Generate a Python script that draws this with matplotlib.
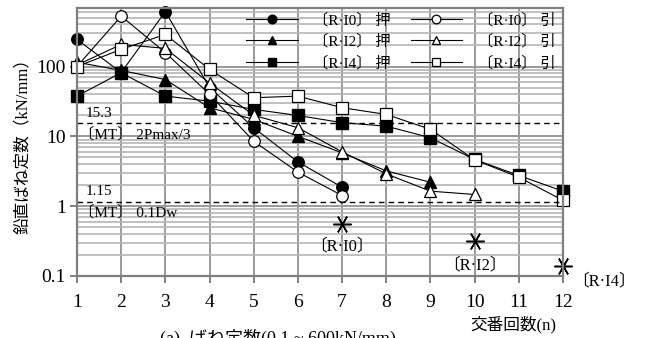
import numpy as np
import matplotlib
matplotlib.use("Agg")
import matplotlib.pyplot as plt
from matplotlib.ticker import LogLocator, FixedLocator, NullFormatter

plt.rcParams['font.family'] = ['Liberation Serif', 'Noto Sans CJK JP', 'DejaVu Sans']

# cycles (x) and vertical spring constants (kN/mm)
cycles = [1, 2, 3, 4, 5, 6, 7, 8, 9, 10, 11, 12]
i0_push = [244, 82, 610, 50, 13.3, 4.3, 1.87]
i0_pull = [100, 527, 158, 40, 8.5, 3.07, 1.42]
i2_push = [115, 88, 65, 25.7, 17.5, 10, 5.8, 3.2, 2.2]
i2_pull = [105, 207, 182, 58, 20, 13.3, 6.0, 2.9, 1.64, 1.47]
i4_push = [37.7, 81.5, 37.7, 31.9, 24.3, 19.9, 15.7, 14, 9.55, 4.67, 2.75, 1.64]
i4_pull = [100, 176, 288, 91, 35.7, 37.7, 25.7, 20.6, 12.6, 4.6, 2.6, 1.21]

limit_vals = [15.3, 1.15]
limit_notes = ['〔MT〕 2Pmax/3', '〔MT〕 0.1Dw']

# failure marks
fail_x = [7, 10, 12]
fail_y = [0.547, 0.315, 0.141]
fail_names = ['〔R·I0〕', '〔R·I2〕', '〔R·I4〕']

fig = plt.figure(figsize=(6.46, 3.38), dpi=100)
ax = fig.add_axes([77/646, 1 - 276/338, (563-77)/646, (276-7.5)/338])
ax.set_yscale('log')
ax.set_xlim(1, 12)
ax.set_ylim(0.1, 700)

# grid
ax.yaxis.set_major_locator(FixedLocator([0.1, 1, 10, 100]))
ax.yaxis.set_minor_locator(LogLocator(base=10, subs=np.arange(2, 10)))
ax.yaxis.set_minor_formatter(NullFormatter())
ax.set_yticklabels(['0.1', '1', '10', '100'])
ax.set_xticks(cycles)
ax.grid(which='major', color='#9a9a9a', lw=1.4)
ax.grid(which='minor', axis='y', color='#b5b5b5', lw=1.2)
ax.set_axisbelow(True)
for s in ax.spines.values():
    s.set_color('#808080')
    s.set_linewidth(1.6)
ax.tick_params(which='major', length=5, width=1.4, color='#808080', labelsize=14, pad=8)
ax.tick_params(axis='y', pad=3)
ax.tick_params(which='minor', length=0)

ms = 8.3
kw = dict(color='black', lw=0.8, ms=ms, clip_on=False)
h1, = ax.plot(cycles[:len(i0_push)], i0_push, marker='o', mfc='black', mec='black', label='〔R·I0〕 押', **kw)
h2, = ax.plot(cycles[:len(i2_push)], i2_push, marker='^', mfc='black', mec='black', label='〔R·I2〕 押', **kw)
h3, = ax.plot(cycles[:len(i4_push)], i4_push, marker='s', mfc='black', mec='black', label='〔R·I4〕 押', **kw)
h4, = ax.plot(cycles[:len(i0_pull)], i0_pull, marker='o', mfc='white', mec='black', mew=0.9, label='〔R·I0〕 引', **kw)
h5, = ax.plot(cycles[:len(i2_pull)], i2_pull, marker='^', mfc='white', mec='black', mew=0.9, label='〔R·I2〕 引', **kw)
h6, = ax.plot(cycles[:len(i4_pull)], i4_pull, marker='s', mfc='white', mec='black', mew=0.9, label='〔R·I4〕 引', **kw)

leg = ax.legend(handles=[h1, h2, h3, h4, h5, h6], ncol=2, loc='upper right',
                bbox_to_anchor=(1.0, 1.01), frameon=False, fontsize=11,
                handlelength=3.4, markerscale=0.75, columnspacing=1.3,
                labelspacing=0.45, handletextpad=1.0, borderaxespad=0.1)

# limit lines
for v, note in zip(limit_vals, limit_notes):
    ax.axhline(v, color='black', ls=(0, (4, 3)), lw=1.0)
    ax.text(1.2, v * 1.12, f'{v:g}', fontsize=11, ha='left', va='bottom')
    ax.text(1.05, v / 1.12, note, fontsize=11, ha='left', va='top')

# failure marks and names
ax.plot(fail_x, fail_y, ls='none', marker=(6, 2, 90), ms=13, mew=1.1, color='black', clip_on=False)
ax.text(fail_x[0], 0.27, fail_names[0], fontsize=12, ha='center', va='center')
ax.text(fail_x[1], 0.141, fail_names[1], fontsize=12, ha='center', va='center')
ax.text(12.93, 0.0843, fail_names[2], fontsize=12, ha='center', va='center', clip_on=False)

ax.set_ylabel('鉛直ばね定数（kN/mm）', fontsize=12, labelpad=4)
fig.text(513/646, 1 - 325/338, '交番回数(n)', fontsize=12, ha='center', va='center')
fig.text(160/646, 1 - 329/338, '(a)  ばね定数(0.1 ~ 600kN/mm)', fontsize=13, ha='left', va='top')

fig.savefig('out.png', dpi=100)
